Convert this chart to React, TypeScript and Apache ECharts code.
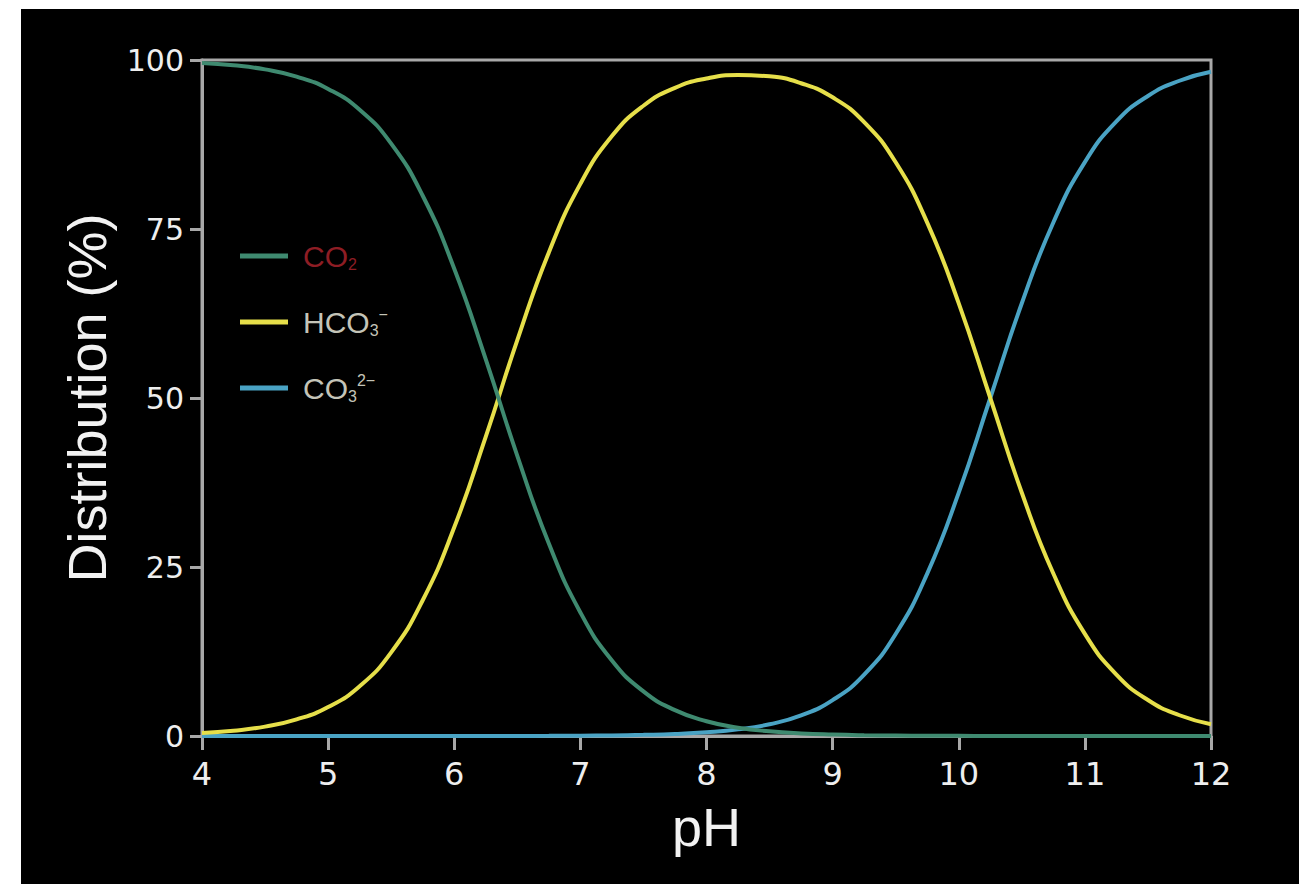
import React, { useEffect, useRef } from "react";
import * as echarts from "echarts";

const pH = [4, 4.25, 4.5, 4.75, 5, 5.25, 5.5, 5.75, 6, 6.25, 6.5, 6.75, 7, 7.25, 7.5, 7.75, 8, 8.25, 8.5, 8.75, 9, 9.25, 9.5, 9.75, 10, 10.25, 10.5, 10.75, 11, 11.25, 11.5, 11.75, 12];
const co2 = [99.55, 99.21, 98.61, 97.55, 95.72, 92.64, 87.62, 79.92, 69.13, 55.73, 41.45, 28.47, 18.28, 11.17, 6.6, 3.82, 2.18, 1.23, 0.69, 0.38, 0.21, 0.11, 0.06, 0.03, 0.02, 0.01, 0, 0, 0, 0, 0, 0, 0];
const hco3 = [0.45, 0.79, 1.39, 2.45, 4.28, 7.36, 12.38, 20.08, 30.87, 44.27, 58.55, 71.53, 81.67, 88.74, 93.23, 95.88, 97.27, 97.79, 97.58, 96.56, 94.48, 90.81, 84.87, 75.95, 64.0, 50.0, 35.99, 24.03, 15.1, 9.09, 5.32, 3.07, 1.75];
const co3 = [0, 0, 0, 0, 0, 0, 0, 0, 0, 0, 0.01, 0.02, 0.05, 0.09, 0.17, 0.3, 0.55, 0.98, 1.74, 3.05, 5.31, 9.08, 15.09, 24.02, 36.0, 50.0, 64.01, 75.97, 84.9, 90.91, 94.68, 96.93, 98.25];
const yTicks = [0, 25, 50, 75, 100];
const seriesNames = ["CO₂", "HCO₃⁻", "CO₃²⁻"];
const seriesColors = ["#3f8a70", "#e6df4a", "#4aa3c4"];

const legendRich: Record<string, string> = {
  "CO₂": "{r|CO}{rs|2}",
  "HCO₃⁻": "{g|HCO}{gs|3}{gp|−}",
  "CO₃²⁻": "{g|CO}{gs|3}{gp|2−}",
};

export default function App() {
  const ref = useRef<HTMLDivElement>(null);
  useEffect(() => {
    document.body.style.margin = "0";
    if (!ref.current) return;
    const chart = echarts.init(ref.current, null, { renderer: "svg" });
    const values = [co2, hco3, co3];
    chart.setOption({
      animation: false,
      backgroundColor: "#000000",
      grid: {
        left: 181,
        right: 88,
        top: 51,
        bottom: 148,
        show: true,
        borderColor: "#a8a8a8",
        borderWidth: 3,
        backgroundColor: "transparent",
      },
      legend: {
        left: 214,
        top: 227,
        orient: "vertical",
        icon: "rect",
        itemWidth: 48,
        itemHeight: 5,
        itemGap: 34,
        data: seriesNames,
        formatter: (name: string) => legendRich[name] || name,
        textStyle: {
          fontFamily: "Liberation Sans",
          padding: [0, 0, 0, 10],
          rich: {
            r: { fontSize: 30, color: "#8e1d24", lineHeight: 32, fontFamily: "Liberation Sans" },
            rs: { fontSize: 16, color: "#8e1d24", verticalAlign: "bottom", lineHeight: 24, fontFamily: "Liberation Sans" },
            g: { fontSize: 30, color: "#c4c4b8", lineHeight: 32, fontFamily: "Liberation Sans" },
            gs: { fontSize: 16, color: "#c4c4b8", verticalAlign: "bottom", lineHeight: 24, fontFamily: "Liberation Sans" },
            gp: { fontSize: 16, color: "#c4c4b8", verticalAlign: "top", lineHeight: 24, fontFamily: "Liberation Sans" },
          },
        },
      },
      xAxis: {
        type: "value",
        min: 4,
        max: 12,
        interval: 1,
        name: "pH",
        nameLocation: "middle",
        nameGap: 64,
        nameTextStyle: { color: "#f2f2f2", fontSize: 54, fontFamily: "Liberation Sans" },
        axisLine: { show: true, lineStyle: { color: "#a8a8a8", width: 3 } },
        axisTick: { show: true, length: 14, lineStyle: { color: "#a8a8a8", width: 3 } },
        axisLabel: { color: "#eeeeee", fontSize: 32, margin: 22, fontFamily: "DejaVu Sans" },
        splitLine: { show: false },
      },
      yAxis: {
        type: "value",
        min: 0,
        max: 100,
        interval: 25,
        name: "Distribution (%)",
        nameLocation: "middle",
        nameGap: 88,
        nameTextStyle: { color: "#f2f2f2", fontSize: 54, fontFamily: "Liberation Sans" },
        axisLine: { show: true, lineStyle: { color: "#a8a8a8", width: 3 } },
        axisTick: { show: true, length: 12, lineStyle: { color: "#a8a8a8", width: 3 } },
        axisLabel: {
          color: "#eeeeee",
          fontSize: 30,
          margin: 18,
          fontFamily: "DejaVu Sans",
          formatter: (v: number) => (yTicks.includes(v) ? String(v) : ""),
        },
        splitLine: { show: false },
      },
      series: seriesNames.map((name, i) => ({
        name,
        type: "line",
        smooth: true,
        symbol: "none",
        data: pH.map((x, j) => [x, values[i][j]]),
        lineStyle: { color: seriesColors[i], width: 4 },
        itemStyle: { color: seriesColors[i] },
        z: 3 - i,
      })),
    });
    return () => chart.dispose();
  }, []);
  return (
    <div style={{ position: "relative", width: 1304, height: 884, background: "#ffffff", overflow: "hidden" }}>
      <div ref={ref} style={{ position: "absolute", left: 21, top: 9, width: 1278, height: 875 }} />
    </div>
  );
}
